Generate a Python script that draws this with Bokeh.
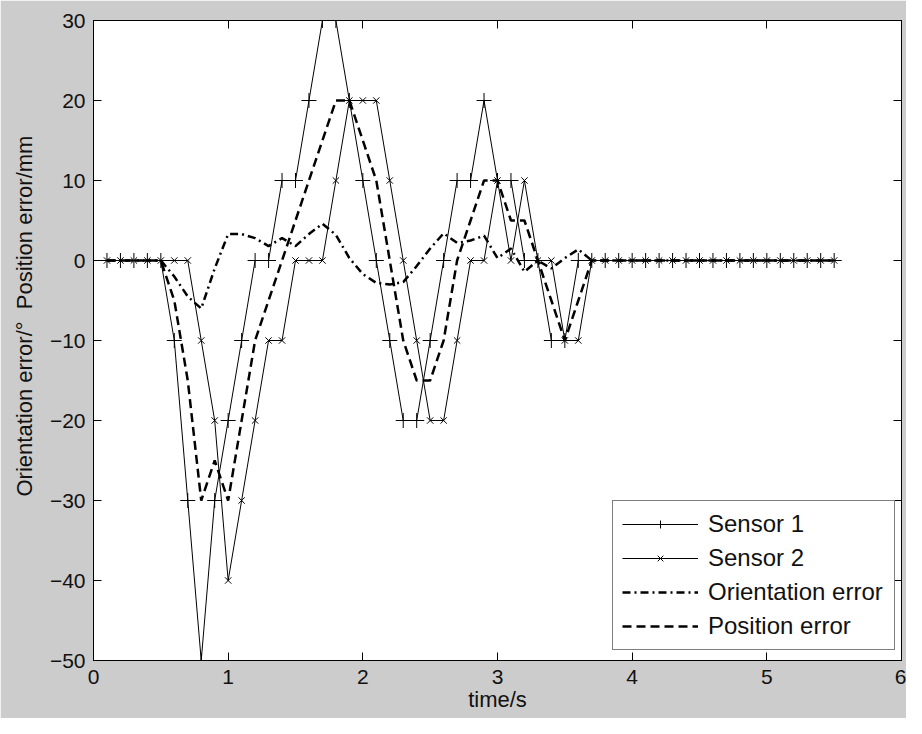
from bokeh.plotting import figure
from bokeh.models import Range1d, FixedTicker, LinearAxis
from bokeh.embed import file_html
from bokeh.resources import INLINE

# ---- data ----
times = [0.1, 0.2, 0.3, 0.4, 0.5, 0.6, 0.7, 0.8, 0.9, 1.0,
         1.1, 1.2, 1.3, 1.4, 1.5, 1.6, 1.7, 1.8, 1.9, 2.0,
         2.1, 2.2, 2.3, 2.4, 2.5, 2.6, 2.7, 2.8, 2.9, 3.0,
         3.1, 3.2, 3.3, 3.4, 3.5, 3.6, 3.7, 3.8, 3.9, 4.0,
         4.1, 4.2, 4.3, 4.4, 4.5, 4.6, 4.7, 4.8, 4.9, 5.0,
         5.1, 5.2, 5.3, 5.4, 5.5]

sensor1 = [0, 0, 0, 0, 0, -10, -30, -50, -30, -20,
           -10, 0, 0, 10, 10, 20, 30, 30, 20, 10,
           0, -10, -20, -20, -10, 0, 10, 10, 20, 10,
           10, 0, 0, -10, -10, 0, 0, 0, 0, 0,
           0, 0, 0, 0, 0, 0, 0, 0, 0, 0,
           0, 0, 0, 0, 0]

sensor2 = [0, 0, 0, 0, 0, 0, 0, -10, -20, -40,
           -30, -20, -10, -10, 0, 0, 0, 10, 20, 20,
           20, 10, 0, -10, -20, -20, -10, 0, 0, 10,
           0, 10, 0, 0, -10, -10, 0, 0, 0, 0,
           0, 0, 0, 0, 0, 0, 0, 0, 0, 0,
           0, 0, 0, 0, 0]

orientation_error = [0, 0, 0, 0, 0, -2, -4.5, -6, -1, 3.3,
                     3.3, 2.8, 1.8, 2.8, 1.8, 3.3, 4.6, 3.2, 0.3, -1.7,
                     -2.8, -3, -2.7, -0.7, 1.5, 3.4, 2.2, 2.5, 3.1, 0.3,
                     1.5, -1.4, 0, -1, 0.3, 1.4, 0, 0, 0, 0,
                     0, 0, 0, 0, 0, 0, 0, 0, 0, 0,
                     0, 0, 0, 0, 0]

position_error = [0, 0, 0, 0, 0, -5, -15, -30, -25, -30,
                  -20, -10, -5, 0, 5, 10, 15, 20, 20, 15,
                  10, 0, -10, -15, -15, -10, 0, 5, 10, 10,
                  5, 5, 0, -5, -10, -5, 0, 0, 0, 0,
                  0, 0, 0, 0, 0, 0, 0, 0, 0, 0,
                  0, 0, 0, 0, 0]

x_ticks = [0, 1, 2, 3, 4, 5, 6]
y_ticks = [-50, -40, -30, -20, -10, 0, 10, 20, 30]

FONT = "Liberation Sans"
NB = "\u00a0"
y_label = NB * 8 + "Orientation error/\u00b0" + NB * 2 + "Position error/mm"

p = figure(width=906, height=718,
           x_range=Range1d(0, 6), y_range=Range1d(-50, 30),
           output_backend="svg", toolbar_location=None,
           min_border_left=93, min_border_right=5,
           min_border_top=20, min_border_bottom=58)

p.background_fill_color = "white"
p.border_fill_color = "#cccccc"
p.outline_line_color = "black"
p.outline_line_width = 1
p.xgrid.grid_line_color = None
p.ygrid.grid_line_color = None

for ax, ticks in ((p.xaxis[0], x_ticks), (p.yaxis[0], y_ticks)):
    ax.ticker = FixedTicker(ticks=ticks)
    ax.axis_line_color = "black"
    ax.major_tick_line_color = "black"
    ax.major_tick_in = 8
    ax.major_tick_out = 0
    ax.minor_tick_in = 0
    ax.minor_tick_out = 0
    ax.major_label_text_font = FONT
    ax.major_label_text_font_size = "21px"
    ax.major_label_text_color = "#111111"
    ax.axis_label_text_font = FONT
    ax.axis_label_text_font_size = "22px"
    ax.axis_label_text_font_style = "normal"
    ax.axis_label_text_color = "#111111"

p.xaxis.axis_label = "time/s"
p.xaxis.major_label_standoff = 9
p.xaxis.axis_label_standoff = 0
p.yaxis.axis_label = y_label
p.yaxis.major_label_standoff = 8
p.yaxis.axis_label_standoff = 10

# box ticks on the right and top (no labels)
p.add_layout(LinearAxis(ticker=FixedTicker(ticks=y_ticks), major_label_text_color=None,
                        major_label_text_font_size="1px",
                        major_label_standoff=0, major_tick_in=8, major_tick_out=0,
                        minor_tick_in=0, minor_tick_out=0, axis_line_color="black"), "right")
p.add_layout(LinearAxis(ticker=FixedTicker(ticks=x_ticks), major_label_text_color=None,
                        major_label_text_font_size="1px",
                        major_label_standoff=0, major_tick_in=8, major_tick_out=0,
                        minor_tick_in=0, minor_tick_out=0, axis_line_color="black"), "above")

# Sensor 1
p.line(times, sensor1, line_color="black", line_width=1, legend_label="Sensor 1")
p.scatter(times, sensor1, marker="cross", size=15, line_color="black", line_width=1,
          legend_label="Sensor 1")
# Sensor 2
p.line(times, sensor2, line_color="black", line_width=1, legend_label="Sensor 2")
p.scatter(times, sensor2, marker="x", size=9, line_color="black", line_width=1,
          legend_label="Sensor 2")
# Orientation error
p.line(times, orientation_error, line_color="black", line_width=2.5,
       line_dash="8 4 2 4", legend_label="Orientation error")
# Position error
p.line(times, position_error, line_color="black", line_width=2.5,
       line_dash="9 5", legend_label="Position error")

lg = p.legend[0]
lg.location = (519, 10)
lg.margin = 0
lg.padding = 9
lg.spacing = 6
lg.glyph_width = 76
lg.glyph_height = 20
lg.label_height = 20
lg.label_width = 177
lg.label_standoff = 10
lg.label_text_font = FONT
lg.label_text_font_size = "24px"
lg.label_text_color = "#111111"
lg.border_line_color = "black"
lg.border_line_width = 1
lg.background_fill_color = "white"
lg.background_fill_alpha = 1.0

open("out.html", "w").write(file_html(p, INLINE))
